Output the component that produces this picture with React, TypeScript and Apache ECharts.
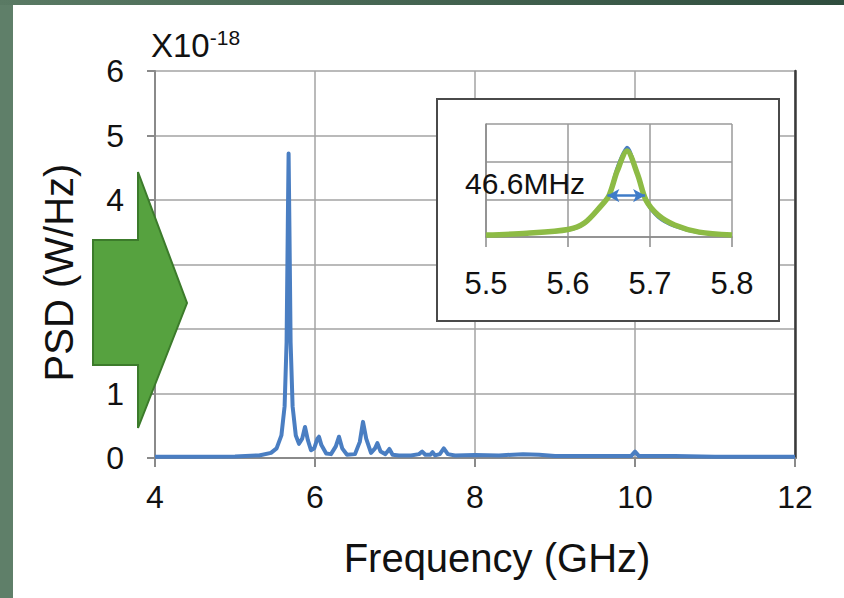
import React, { useEffect, useRef } from "react";
import * as echarts from "echarts";

// Main spectrum (frequency in GHz, PSD in units of 1e-18 W/Hz)
const mainFreq = [
  4.0, 4.5, 5.0, 5.3, 5.45, 5.52, 5.58, 5.62, 5.645, 5.66, 5.67, 5.68, 5.695, 5.72, 5.76,
  5.8, 5.84, 5.875, 5.91, 5.95, 5.99, 6.03, 6.05, 6.08, 6.14, 6.2, 6.26, 6.3, 6.34, 6.4,
  6.5, 6.56, 6.6, 6.64, 6.7, 6.75, 6.78, 6.82, 6.88, 6.93, 6.97, 7.05, 7.2, 7.3, 7.34,
  7.38, 7.44, 7.47, 7.5, 7.56, 7.61, 7.66, 7.75, 8.0, 8.3, 8.6, 8.8, 9.0, 9.5, 9.95,
  10.0, 10.05, 10.5, 11.0, 11.5, 12.0,
];
const mainPsd = [
  0.02, 0.02, 0.025, 0.04, 0.08, 0.15, 0.35, 0.8, 1.8, 3.6, 4.72, 3.6, 1.8, 0.8, 0.35,
  0.22, 0.3, 0.48, 0.28, 0.12, 0.15, 0.3, 0.33, 0.2, 0.07, 0.06, 0.18, 0.33, 0.15, 0.05,
  0.06, 0.25, 0.56, 0.3, 0.08, 0.15, 0.23, 0.1, 0.06, 0.14, 0.05, 0.04, 0.04, 0.06, 0.1,
  0.05, 0.05, 0.09, 0.04, 0.06, 0.15, 0.06, 0.04, 0.045, 0.04, 0.06, 0.05, 0.03, 0.03, 0.03,
  0.1, 0.03, 0.03, 0.02, 0.02, 0.02,
];

// Inset: zoom on the main peak (arbitrary units)
const insetFreq = [5.5, 5.55, 5.6, 5.62, 5.64, 5.65, 5.66, 5.672, 5.685, 5.695, 5.71, 5.73, 5.76, 5.8];
const insetMeasured = [0.05, 0.1, 0.18, 0.35, 0.8, 1.12, 1.85, 2.38, 1.65, 0.95, 0.52, 0.28, 0.11, 0.05];
const insetFit = [0.05, 0.1, 0.2, 0.37, 0.82, 1.1, 1.75, 2.28, 1.65, 0.98, 0.58, 0.32, 0.13, 0.05];
const fwhmStart = 5.648;
const fwhmEnd = 5.694;
const fwhmLevel = 1.1;
const fwhmLabel = "46.6MHz";

const mainXTicks = { min: 4, max: 12, interval: 2 };
const mainYTicks = { min: 0, max: 6, interval: 1 };
const insetXTicks = { min: 5.5, max: 5.8, interval: 0.1 };
const insetYTicks = { min: 0, max: 3, interval: 1 };

const FONT = "'Liberation Sans', Arial, sans-serif";
const BLUE = "#4a7ec2";
const GREEN = "#8dbb45";
const GRID = "#a3a3a3";

export default function App() {
  const ref = useRef<HTMLDivElement>(null);

  useEffect(() => {
    if (!ref.current) return;
    const chart = echarts.init(ref.current, undefined, { renderer: "svg" });

    const mainData = mainFreq.map((f, i) => [f, mainPsd[i]]);
    const measData = insetFreq.map((f, i) => [f, insetMeasured[i]]);
    const fitData = insetFreq.map((f, i) => [f, insetFit[i]]);

    chart.setOption({
      animation: false,
      backgroundColor: "#ffffff",
      textStyle: { fontFamily: FONT, color: "#111" },
      title: {
        text: "{a|X10}{b|-18}",
        left: 146,
        top: 22,
        textStyle: {
          fontWeight: "normal",
          rich: {
            a: { fontSize: 33, fontFamily: FONT, color: "#111", fontWeight: "normal" },
            b: { fontSize: 21, fontFamily: FONT, color: "#111", fontWeight: "normal", padding: [0, 0, 15, 0] },
          },
        },
      },
      grid: [
        { left: 155, right: 49, top: 71, bottom: 140 },
        { left: 486, right: 112, top: 124, bottom: 361 },
      ],
      xAxis: [
        {
          gridIndex: 0,
          type: "value",
          min: mainXTicks.min,
          max: mainXTicks.max,
          interval: mainXTicks.interval,
          axisLine: { show: true, lineStyle: { color: "#8a8a8a", width: 2 } },
          axisTick: { show: true, length: 9, lineStyle: { color: "#8a8a8a", width: 2 } },
          splitLine: { show: true, lineStyle: { color: GRID, width: 1.5 } },
          axisLabel: { fontSize: 32, color: "#111", margin: 23, fontFamily: FONT },
          name: "Frequency (GHz)",
          nameLocation: "middle",
          nameGap: 80,
          nameTextStyle: { fontSize: 40, color: "#111", fontFamily: FONT, padding: [0, 0, 0, 44] },
        },
        {
          gridIndex: 1,
          type: "value",
          min: insetXTicks.min,
          max: insetXTicks.max,
          interval: insetXTicks.interval,
          z: 5,
          axisLine: { show: true, lineStyle: { color: "#8a8a8a", width: 1.5 } },
          axisTick: { show: true, length: 10, lineStyle: { color: "#8a8a8a", width: 1.5 } },
          splitLine: { show: true, lineStyle: { color: "#9a9a9a", width: 1.5 } },
          axisLabel: {
            fontSize: 31,
            color: "#111",
            margin: 31,
            fontFamily: FONT,
            formatter: (v: number) => v.toFixed(1),
          },
        },
      ],
      yAxis: [
        {
          gridIndex: 0,
          type: "value",
          min: mainYTicks.min,
          max: mainYTicks.max,
          interval: mainYTicks.interval,
          axisLine: { show: true, lineStyle: { color: "#8a8a8a", width: 2 } },
          axisTick: { show: true, length: 8, lineStyle: { color: "#8a8a8a", width: 2 } },
          splitLine: { show: true, lineStyle: { color: GRID, width: 1.5 } },
          axisLabel: { fontSize: 32, color: "#111", margin: 31, fontFamily: FONT },
          name: "PSD (W/Hz)",
          nameLocation: "middle",
          nameGap: 76,
          nameTextStyle: { fontSize: 40, color: "#111", fontFamily: FONT, padding: [0, 16, 0, 0] },
        },
        {
          gridIndex: 0,
          type: "value",
          position: "right",
          min: mainYTicks.min,
          max: mainYTicks.max,
          interval: mainYTicks.interval,
          axisLine: { show: true, lineStyle: { color: "#3a3a3a", width: 2.5 } },
          axisTick: { show: false },
          splitLine: { show: false },
          axisLabel: { show: false },
        },
        {
          gridIndex: 1,
          type: "value",
          min: insetYTicks.min,
          max: insetYTicks.max,
          interval: insetYTicks.interval,
          z: 5,
          axisLine: { show: true, lineStyle: { color: "#8a8a8a", width: 1.5 } },
          axisTick: { show: false },
          splitLine: { show: true, lineStyle: { color: "#9a9a9a", width: 1.5 } },
          axisLabel: { show: false },
        },
      ],
      series: [
        {
          type: "line",
          xAxisIndex: 0,
          yAxisIndex: 0,
          data: mainData,
          showSymbol: false,
          lineStyle: { color: BLUE, width: 4, join: "round" },
          z: 3,
        },
        {
          type: "line",
          xAxisIndex: 1,
          yAxisIndex: 2,
          data: measData,
          showSymbol: false,
          smooth: 0.3,
          lineStyle: { color: BLUE, width: 3 },
          z: 6,
          markLine: {
            silent: true,
            symbol: ["arrow", "arrow"],
            symbolSize: [10, 12],
            label: { show: false },
            lineStyle: { color: "#3f7cc8", width: 2.5, type: "solid" },
            data: [[{ coord: [fwhmStart, fwhmLevel] }, { coord: [fwhmEnd, fwhmLevel] }]],
            z: 8,
          },
        },
        {
          type: "line",
          xAxisIndex: 1,
          yAxisIndex: 2,
          data: fitData,
          showSymbol: false,
          smooth: 0.3,
          lineStyle: { color: GREEN, width: 5.5 },
          z: 7,
        },
      ],
      graphic: [
        {
          type: "rect",
          z: 0,
          shape: { x: 0, y: 0, width: 13, height: 598 },
          style: { fill: "#5f7f69" },
        },
        {
          type: "rect",
          z: 0,
          shape: { x: 0, y: 0, width: 844, height: 5 },
          style: {
            fill: new echarts.graphic.LinearGradient(0, 0, 1, 0, [
              { offset: 0, color: "#5a7a64" },
              { offset: 1, color: "#2f4d3e" },
            ]),
          },
        },
        {
          type: "rect",
          z: 1,
          shape: { x: 437, y: 99, width: 342, height: 222 },
          style: { fill: "#ffffff", stroke: "#4a4a4a", lineWidth: 2 },
        },
        {
          type: "text",
          z: 10,
          x: 465,
          y: 168,
          style: { text: fwhmLabel, fontSize: 30, fontFamily: FONT, fill: "#111" },
        },
        {
          type: "polygon",
          z: 20,
          shape: {
            points: [
              [138, 172],
              [187, 303],
              [138, 428],
              [138, 365],
              [93, 365],
              [93, 240],
              [138, 240],
            ],
          },
          style: { fill: "#56a23f", stroke: "#3c7b2b", lineWidth: 2 },
        },
      ],
    });

    return () => chart.dispose();
  }, []);

  return (
    <div
      ref={ref}
      style={{ position: "fixed", left: 0, top: 0, width: 844, height: 598 }}
    />
  );
}
